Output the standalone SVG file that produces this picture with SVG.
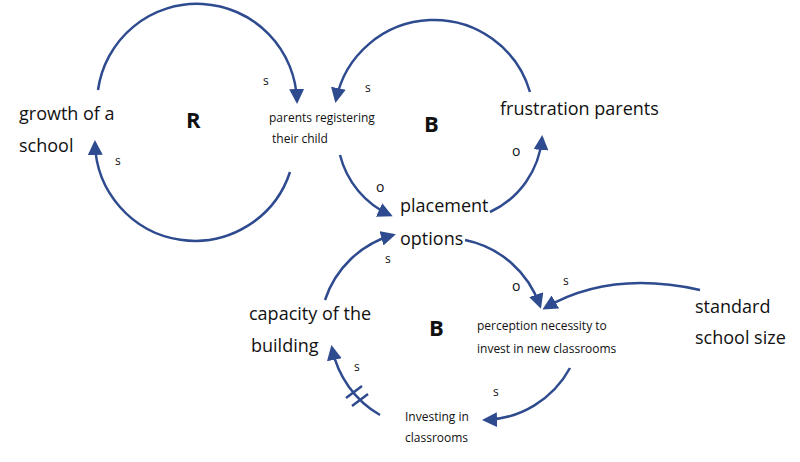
<svg xmlns="http://www.w3.org/2000/svg" width="800" height="462" viewBox="0 0 800 462">
<defs>
<style>
.c{fill:none;stroke:#2F4B8F;stroke-width:2.5}
.t{font-family:"Open Sans","Liberation Sans",sans-serif;fill:#111}
.l{font-size:18px}.s{font-size:12px}.p{font-size:14px}.b{font-size:22px;font-weight:bold}
</style>
<marker id="a" viewBox="0 0 10 10" refX="8" refY="5" markerWidth="6" markerHeight="6" orient="auto"><path d="M0,0L10,5L0,10z" fill="#2F4B8F"/></marker>
</defs>
<rect width="800" height="462" fill="#fff"/>
<g id="connectors">
<path class="c" d="M98,90 A100,100 0 0 1 297,101" marker-end="url(#a)"/>
<path class="c" d="M290,172 A100,100 0 0 1 95,143" marker-end="url(#a)"/>
<path class="c" d="M530,92 A100,100 0 0 0 336,100" marker-end="url(#a)"/>
<path class="c" d="M340,155 A90,90 0 0 0 390,215" marker-end="url(#a)"/>
<path class="c" d="M490,212 A90,90 0 0 0 542,138" marker-end="url(#a)"/>
<path class="c" d="M325,300 A100,100 0 0 1 393,235" marker-end="url(#a)"/>
<path class="c" d="M465,240 A100,100 0 0 1 540,306" marker-end="url(#a)"/>
<path class="c" d="M700,290 Q610,270 545,308" marker-end="url(#a)"/>
<path class="c" d="M570,368 A100,100 0 0 1 485,420" marker-end="url(#a)"/>
<path class="c" d="M380,415 A100,100 0 0 1 332,348" marker-end="url(#a)"/>
<path class="c" d="M346,398 L362,386 M352,406 L368,394"/>
</g>
<g class="t">
<text class="s" x="263" y="85">s</text>
<text class="s" x="115" y="165">s</text>
<text class="s" x="365" y="92">s</text>
<text class="p" x="376" y="192">o</text>
<text class="p" x="512" y="156">o</text>
<text class="s" x="385" y="263">s</text>
<text class="p" x="512" y="291">o</text>
<text class="s" x="563" y="285">s</text>
<text class="s" x="493" y="396">s</text>
<text class="s" x="354" y="371">s</text>
</g>
<g id="R" class="t"><text class="b" x="186" y="128">R</text></g>
<g id="B1" class="t"><text class="b" x="424" y="132">B</text></g>
<g id="B2" class="t"><text class="b" x="429" y="336">B</text></g>
<g id="growth" class="t l"><text x="19" y="120">growth of a</text><text x="19" y="152">school</text></g>
<g id="parents" class="t"><text class="s" x="269" y="122">parents registering</text><text class="s" x="272" y="143">their child</text></g>
<g id="frustration" class="t l"><text x="500" y="115">frustration parents</text></g>
<g id="placement" class="t l"><text x="400" y="212">placement</text><text x="400" y="245">options</text></g>
<g id="capacity" class="t l"><text x="249" y="320">capacity of the</text><text x="251" y="352">building</text></g>
<g id="perception" class="t"><text class="s" x="477" y="330">perception necessity to</text><text class="s" x="477" y="353">invest in new classrooms</text></g>
<g id="standard" class="t l"><text x="695" y="313">standard</text><text x="695" y="344">school size</text></g>
<g id="investing" class="t"><text class="s" x="405" y="421">Investing in</text><text class="s" x="405" y="442">classrooms</text></g>
</svg>
